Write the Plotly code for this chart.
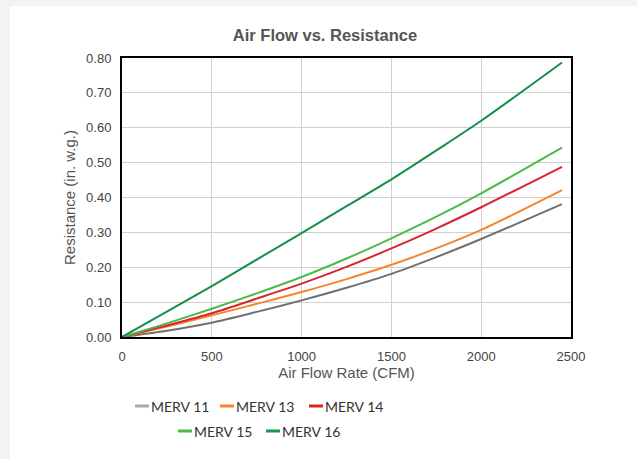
import plotly.graph_objects as go

flow = [0, 250, 500, 750, 1000, 1250, 1500, 1750, 2000, 2450]
merv11 = [0, 0.018, 0.041, 0.072, 0.105, 0.141, 0.181, 0.229, 0.281, 0.381]
merv13 = [0, 0.030, 0.062, 0.095, 0.129, 0.166, 0.207, 0.254, 0.307, 0.421]
merv14 = [0, 0.033, 0.068, 0.110, 0.153, 0.201, 0.254, 0.311, 0.372, 0.488]
merv15 = [0, 0.039, 0.081, 0.125, 0.172, 0.225, 0.283, 0.345, 0.412, 0.543]
merv16 = [0, 0.073, 0.146, 0.222, 0.298, 0.375, 0.452, 0.535, 0.620, 0.787]

names = ["MERV 11", "MERV 13", "MERV 14", "MERV 15", "MERV 16"]
series = [merv11, merv13, merv14, merv15, merv16]
colors = ["#707070", "#f7842a", "#d7262f", "#4cba48", "#12904a"]
legend_colors = ["#aaaaaa", "#f7842a", "#e02424", "#4cba48", "#139a4c"]

# plot-area geometry (pixels) used to place the hand-built legend
L, R, T, B = 122, 571, 58, 337
W, H = R - L, B - T


def px(x):
    return (x - L) / W


def py(y):
    return (B - y) / H


fig = go.Figure()
for n, s, c in zip(names, series, colors):
    fig.add_trace(go.Scatter(x=flow, y=s, name=n, mode="lines", showlegend=False,
                             hoverinfo="skip",
                             line=dict(color=c, width=2, shape="spline", smoothing=0.8)))

# white card over grey page background
fig.add_shape(type="rect", xref="paper", yref="paper",
              x0=px(10), x1=px(645), y0=py(470), y1=py(6),
              fillcolor="white", line=dict(width=0), layer="below")

# legend (two rows, centred)
leg_pos = [(135, 406), (220, 406), (309, 406), (178, 431), (266, 431)]
for n, c, (lx, ly) in zip(names, legend_colors, leg_pos):
    fig.add_shape(type="line", xref="paper", yref="paper",
                  x0=px(lx), x1=px(lx + 14), y0=py(ly), y1=py(ly),
                  line=dict(color=c, width=3))
    fig.add_annotation(xref="paper", yref="paper", x=px(lx + 14), y=py(ly),
                       xanchor="left", yanchor="middle", showarrow=False,
                       text=n, font=dict(family="Lato", size=14, color="#333333"))

fig.update_layout(
    width=637, height=459,
    margin=dict(l=L, r=637 - R, t=T, b=459 - B),
    paper_bgcolor="#f2f3f5", plot_bgcolor="white",
    title=dict(text="<b>Air Flow vs. Resistance</b>", x=325 / 637, xanchor="center",
               y=1 - 35 / 459, yanchor="middle",
               font=dict(family="Liberation Sans", size=16.5, color="#555555")),
    font=dict(family="Liberation Sans", size=13, color="#333333"),
    showlegend=False,
)
fig.update_xaxes(range=[0, 2500], dtick=500, showgrid=True, gridcolor="#d0d0d0",
                 gridwidth=1, showline=True, linecolor="black", linewidth=2, mirror=True,
                 zeroline=False, ticks="", ticklabelstandoff=6,
                 tickfont=dict(size=13, color="#444"),
                 title=dict(text="Air Flow Rate (CFM)", font=dict(size=15, color="#555"), standoff=5))
fig.update_yaxes(range=[0, 0.8], dtick=0.1, tickformat=".2f", showgrid=True, gridcolor="#d0d0d0",
                 gridwidth=1, showline=True, linecolor="black", linewidth=2, mirror=True,
                 zeroline=False, ticks="", ticklabelstandoff=6,
                 tickfont=dict(size=13, color="#444"),
                 title=dict(text="Resistance (in. w.g.)", font=dict(size=15, color="#555"), standoff=7))

fig.write_html("out.html", config={"displayModeBar": False},
               post_script="document.body.style.margin='0';document.body.style.padding='0';")
